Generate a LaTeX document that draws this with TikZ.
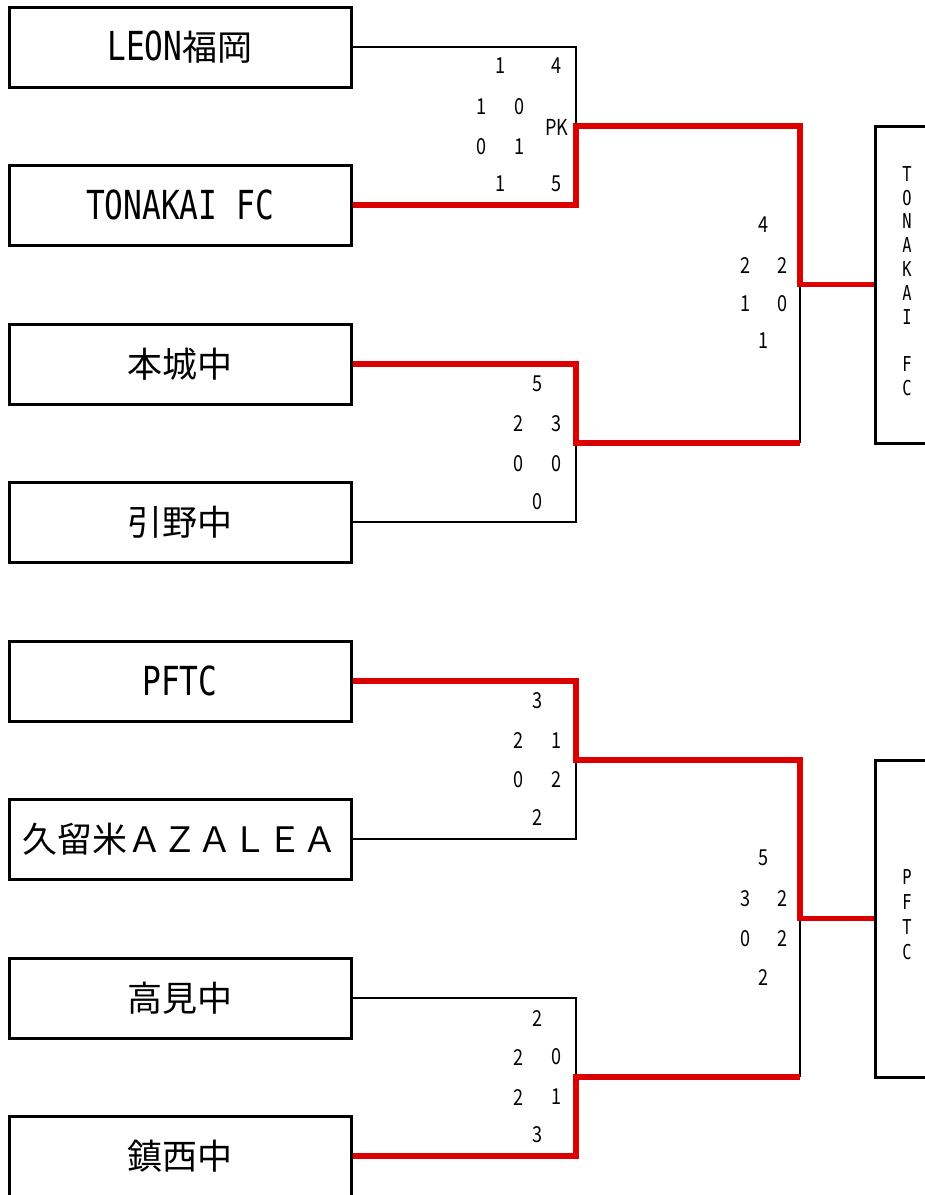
\documentclass[tikz,border=0pt]{standalone}
\usepackage{fontspec}
\setmainfont{Noto Sans CJK JP}
\newfontfamily\hwfont[FakeStretch=0.78]{DejaVu Sans Mono}
\newfontfamily\vtfontfam[FakeStretch=0.75]{DejaVu Sans Mono}
\newfontfamily\scfontfam[FakeStretch=0.82]{Noto Sans CJK JP}
\newcommand\hw[1]{{\hwfont\fontsize{40}{40}\selectfont #1}}
\definecolor{winred}{RGB}{221,0,0}
\begin{document}
\begin{tikzpicture}[x=1pt,y=-1pt,
  team/.style={draw, line width=3pt, minimum width=342pt, minimum height=80pt,
    inner sep=0pt, font=\fontsize{35}{35}\selectfont},
  winbox/.style={draw, line width=3pt, minimum width=70pt, minimum height=317pt, inner sep=0pt},
  vt/.style={inner sep=0pt, align=center},
  sc/.style={inner sep=0pt, font=\scfontfam\fontsize{22}{22}\selectfont},
  lose/.style={line width=2.7pt, line join=miter, black},
  win/.style={line width=5.8pt, line join=miter, winred}]
\useasboundingbox (0,0) rectangle (925,1195);
\clip (0,0) rectangle (925,1195);
% team boxes
\node[team] (t1) at (180,47)   {\hw{LEON}福岡};
\node[team] (t2) at (180,205)  {\hw{TONAKAI FC}};
\node[team] (t3) at (180,364)  {本城中};
\node[team] (t4) at (180,522)  {引野中};
\node[team] (t5) at (180,681)  {\hw{PFTC}};
\node[team] (t6) at (180,839)  {久留米ＡＺＡＬＥＡ};
\node[team] (t7) at (180,998)  {高見中};
\node[team] (t8) at (180,1156) {鎮西中};
% winner boxes
\node[winbox] (w1) at (910,284.5) {};
\node[winbox] (w2) at (910,918.5) {};
\node[vt, font=\vtfontfam\fontsize{20.5}{23.8}\selectfont] (w1t) at (907,281)
  {T\\O\\N\\A\\K\\A\\I\\~\\F\\C};
\node[vt, font=\vtfontfam\fontsize{20.5}{25}\selectfont] (w2t) at (907,915)
  {P\\F\\T\\C};
% junctions
\coordinate (j1) at (576,126);
\coordinate (j2) at (576,443);
\coordinate (j3) at (576,760);
\coordinate (j4) at (576,1077);
\coordinate (s1) at (800,284.5);
\coordinate (s2) at (800,918.5);
% losing connectors
\draw[lose] (t1.east) -| (j1);
\draw[lose] (t4.east) -| (j2);
\draw[lose] (s1 |- j2) -- (s1);
\draw[lose] (t6.east) -| (j3);
\draw[lose] (t7.east) -| (j4);
\draw[lose] (s2 |- j4) -- (s2);
% winning connectors
\draw[win] (t2.east) -| (j1) -| (s1) -- (w1.west);
\draw[win] (t3.east) -| (j2) -- (s1 |- j2);
\draw[win] (t5.east) -| (j3) -| (s2) -- (w2.west);
\draw[win] (t8.east) -| (j4) -- (s2 |- j4);
% match 1
\node[sc] (a1) at (501,66) {1};
\node[sc] (a2) at (557,66) {4};
\node[sc] (a3) at (482,107) {1};
\node[sc] (a4) at (520,107) {0};
\node[sc] (a5) at (557,127) {PK};
\node[sc] (a6) at (482,147) {0};
\node[sc] (a7) at (520,147) {1};
\node[sc] (a8) at (501,184) {1};
\node[sc] (a9) at (557,184) {5};
% match 2
\node[sc] (b1) at (538,384) {5};
\node[sc] (b2) at (519,424) {2};
\node[sc] (b3) at (557,424) {3};
\node[sc] (b4) at (519,464) {0};
\node[sc] (b5) at (557,464) {0};
\node[sc] (b6) at (538,502) {0};
% semi 1
\node[sc] (c1) at (763,225) {4};
\node[sc] (c2) at (745,266) {2};
\node[sc] (c3) at (782,266) {2};
\node[sc] (c4) at (745,304) {1};
\node[sc] (c5) at (782,304) {0};
\node[sc] (c6) at (763,341) {1};
% match 3
\node[sc] (d1) at (538,701) {3};
\node[sc] (d2) at (519,741) {2};
\node[sc] (d3) at (557,741) {1};
\node[sc] (d4) at (519,780) {0};
\node[sc] (d5) at (557,780) {2};
\node[sc] (d6) at (538,818) {2};
% match 4
\node[sc] (e1) at (538,1018) {2};
\node[sc] (e2) at (519,1057) {2};
\node[sc] (e3) at (557,1057) {0};
\node[sc] (e4) at (519,1097) {2};
\node[sc] (e5) at (557,1097) {1};
\node[sc] (e6) at (538,1135) {3};
% semi 2
\node[sc] (f1) at (763,858) {5};
\node[sc] (f2) at (745,899) {3};
\node[sc] (f3) at (782,899) {2};
\node[sc] (f4) at (745,939) {0};
\node[sc] (f5) at (782,939) {2};
\node[sc] (f6) at (763,977) {2};
\end{tikzpicture}
\end{document}
